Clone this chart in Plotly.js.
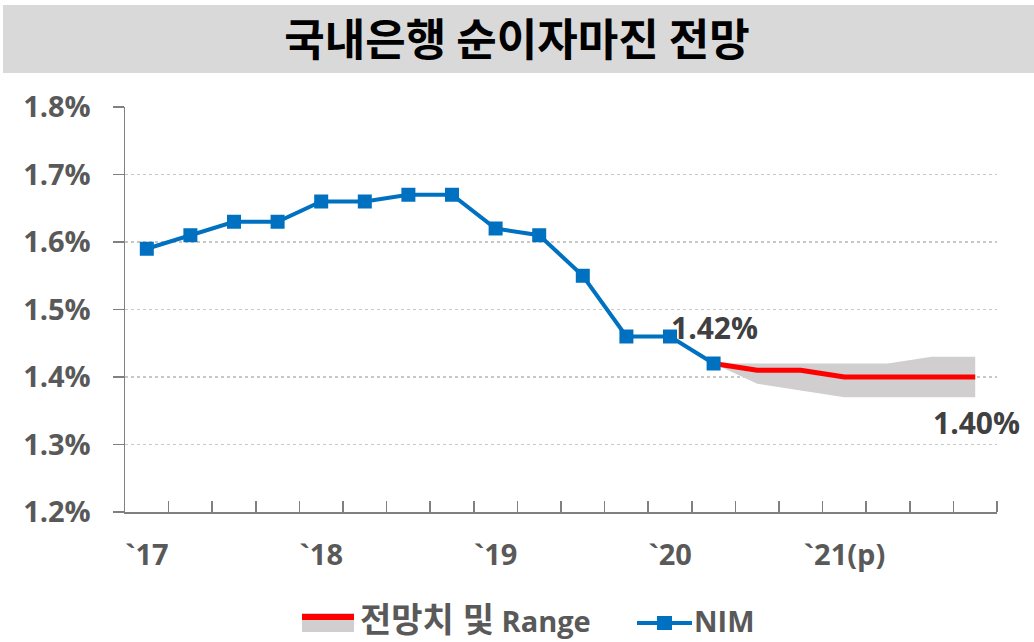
<!DOCTYPE html>
<html>
<head>
<meta charset="utf-8">
<script src="https://cdn.plot.ly/plotly-3.0.1.min.js"></script>
<style>
  body { margin: 0; background: #fff; }
  #graph { width: 1034px; height: 642px; }
</style>
</head>
<body>
<div id="graph"></div>
<script>
// quarters 17Q1 .. 21Q4, x = index
const quarters = ['17Q1','17Q2','17Q3','17Q4','18Q1','18Q2','18Q3','18Q4',
  '19Q1','19Q2','19Q3','19Q4','20Q1','20Q2','20Q3','20Q4',
  '21Q1','21Q2','21Q3','21Q4'];

const nimValues = [1.59, 1.61, 1.63, 1.63, 1.66, 1.66, 1.67, 1.67,
  1.62, 1.61, 1.55, 1.46, 1.46, 1.42];

// forecast from 20Q2 on
const forecastValues = [1.42, 1.41, 1.41, 1.40, 1.40, 1.40, 1.40];
const rangeUpper = [1.42, 1.42, 1.42, 1.42, 1.42, 1.43, 1.43];
const rangeLower = [1.42, 1.39, 1.38, 1.37, 1.37, 1.37, 1.37];

const yearLabels = ['`17', '`18', '`19', '`20', '`21(p)'];
const yearStarts = ['17Q1', '18Q1', '19Q1', '20Q1', '21Q1'];

const idx = q => quarters.indexOf(q);
const nimX = nimValues.map((v, i) => i);
const fcX = forecastValues.map((v, i) => i + nimValues.length - 1);
const boundaries = quarters.map((q, i) => i + 0.5);

const band = {
  x: fcX.concat(fcX.slice().reverse()),
  y: rangeUpper.concat(rangeLower.slice().reverse()),
  fill: 'toself',
  fillcolor: '#D0CECE',
  line: {width: 0},
  mode: 'lines',
  hoverinfo: 'skip'
};

const forecast = {
  x: fcX, y: forecastValues,
  mode: 'lines',
  line: {color: '#FF0000', width: 5},
  name: '전망치 및 Range'
};

const nim = {
  x: nimX, y: nimValues,
  mode: 'lines+markers',
  line: {color: '#0070C0', width: 4},
  marker: {symbol: 'square', size: 14, color: '#0070C0'},
  name: 'NIM'
};

const labelFont = {family: 'Open Sans', size: 30, color: '#404040', weight: 'bold'};
const legendFont = {family: 'Open Sans, Noto Sans CJK KR', size: 29, color: '#595959', weight: 'bold'};

// pixel -> paper helpers for the hand-drawn legend (plot area 125..997 x 107..512)
const px = v => (v - 125) / 872;
const py = v => (512 - v) / 405;

const layout = {
  width: 1034, height: 642,
  margin: {l: 125, r: 37, t: 107, b: 130},
  paper_bgcolor: '#fff', plot_bgcolor: '#fff',
  title: {
    text: '국내은행 순이자마진 전망',
    font: {family: 'Noto Sans CJK KR', size: 44, color: '#000', weight: 'bold'},
    x: 0.5, xanchor: 'center', y: 0.937, yanchor: 'middle'
  },
  showlegend: false,
  xaxis: {
    range: [-0.5, 19.5],
    tickmode: 'array',
    tickvals: yearStarts.map(idx),
    ticktext: yearLabels,
    ticks: '',
    ticklabelstandoff: 17,
    tickfont: {family: 'Open Sans', size: 29, color: '#595959', weight: 'bold'},
    showgrid: false, zeroline: false,
    showline: true, linecolor: '#808080', linewidth: 1.5,
    minor: {tickmode: 'array', tickvals: boundaries, ticks: 'inside', ticklen: 11,
      tickcolor: '#808080', tickwidth: 1.5, showgrid: false},
    fixedrange: true
  },
  yaxis: {
    range: [1.2, 1.8],
    dtick: 0.1, tick0: 1.2,
    tickformat: '.1f', ticksuffix: '%',
    ticks: 'outside', ticklen: 11, tickcolor: '#808080', tickwidth: 1.5,
    ticklabelstandoff: 16,
    tickfont: {family: 'Open Sans', size: 29, color: '#595959', weight: 'bold'},
    showgrid: true, gridcolor: '#C8C8C8', gridwidth: 1.5, griddash: 'dot',
    zeroline: false,
    showline: true, linecolor: '#808080', linewidth: 1.5,
    fixedrange: true
  },
  shapes: [
    // title bar
    {type: 'rect', xref: 'paper', yref: 'paper',
      x0: px(3), x1: px(1034), y0: py(73), y1: py(5),
      fillcolor: '#D9D9D9', line: {width: 0}, layer: 'below'},
    // legend: forecast + range
    {type: 'rect', xref: 'paper', yref: 'paper',
      x0: px(302), x1: px(354), y0: py(632), y1: py(613),
      fillcolor: '#D0CECE', line: {width: 0}},
    {type: 'line', xref: 'paper', yref: 'paper',
      x0: px(302), x1: px(354), y0: py(617), y1: py(617),
      line: {color: '#FF0000', width: 6}},
    // legend: NIM
    {type: 'line', xref: 'paper', yref: 'paper',
      x0: px(637), x1: px(692), y0: py(623), y1: py(623),
      line: {color: '#0070C0', width: 4}},
    {type: 'rect', xref: 'paper', yref: 'paper',
      x0: px(657), x1: px(672), y0: py(630), y1: py(616),
      fillcolor: '#0070C0', line: {width: 0}}
  ],
  annotations: [
    {x: nimX[nimX.length - 1], y: nimValues[nimValues.length - 1], text: '1.42%',
      showarrow: false, yshift: 36, xshift: 1, font: labelFont},
    {x: fcX[fcX.length - 1], y: forecastValues[forecastValues.length - 1], text: '1.40%',
      showarrow: false, yshift: -45, xshift: 1, font: labelFont},
    {x: px(358), y: py(619), xref: 'paper', yref: 'paper', xanchor: 'left', yanchor: 'middle',
      text: '<span style="font-size:34px">전망치 및</span> Range', showarrow: false, font: legendFont},
    {x: px(692), y: py(620), xref: 'paper', yref: 'paper', xanchor: 'left', yanchor: 'middle',
      text: 'NIM', showarrow: false, font: legendFont}
  ]
};

Plotly.newPlot('graph', [band, forecast, nim], layout, {displayModeBar: false, staticPlot: true});
</script>
</body>
</html>
